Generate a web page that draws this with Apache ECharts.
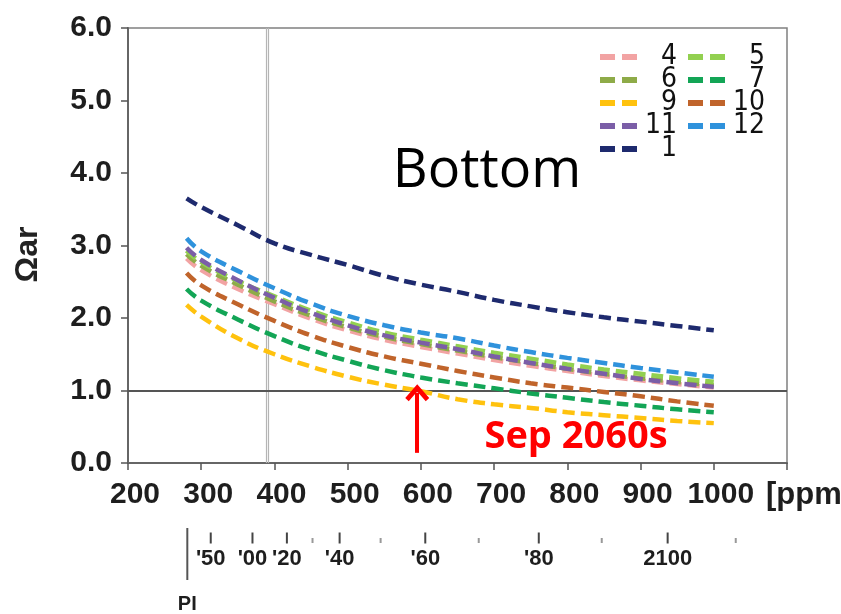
<!DOCTYPE html>
<html><head><meta charset="utf-8">
<script src="https://cdn.jsdelivr.net/npm/echarts@6/dist/echarts.min.js"></script>
<style>html,body{margin:0;padding:0;background:#fff}#c{width:841px;height:614px}</style>
</head><body><div id="c"></div>
<script>
// CO2 (ppm) sample points
const co2 = [280,300,350,400,450,500,550,600,650,700,750,800,850,900,950,1000];
// Omega aragonite per month (bottom)
const m1  = [3.65,3.53,3.28,3.03,2.87,2.73,2.58,2.46,2.36,2.25,2.16,2.08,2.01,1.95,1.89,1.83];
const m4  = [2.82,2.66,2.40,2.19,1.99,1.83,1.70,1.60,1.51,1.42,1.34,1.27,1.20,1.14,1.09,1.04];
const m5  = [2.93,2.77,2.51,2.30,2.10,1.94,1.80,1.70,1.61,1.52,1.44,1.36,1.29,1.23,1.17,1.12];
const m6  = [2.88,2.72,2.46,2.23,2.03,1.87,1.74,1.64,1.55,1.46,1.38,1.30,1.23,1.17,1.12,1.07];
const m7  = [2.40,2.24,1.98,1.75,1.56,1.41,1.28,1.18,1.10,1.03,0.96,0.90,0.84,0.79,0.74,0.70];
const m9  = [2.18,2.02,1.72,1.50,1.33,1.19,1.08,0.99,0.88,0.81,0.76,0.70,0.66,0.62,0.58,0.55];
const m10 = [2.62,2.45,2.19,1.96,1.76,1.60,1.47,1.37,1.27,1.18,1.10,1.04,0.98,0.92,0.85,0.79];
const m11 = [2.97,2.80,2.52,2.28,2.07,1.90,1.76,1.66,1.57,1.47,1.38,1.30,1.23,1.16,1.10,1.05];
const m12 = [3.10,2.92,2.65,2.41,2.20,2.03,1.90,1.80,1.72,1.62,1.53,1.45,1.38,1.31,1.25,1.19];

const legendCol1 = ['4','6','9','11','1'];
const legendCol2 = ['5','7','10','12'];

const xTicks = [200,300,400,500,600,700,800,900,1000,1100];
const xTickLabels = ['200','300','400','500','600','700','800','900','1000','[ppm]'];

// time line under the ppm axis
const timelinePpm = [281,313,370,417,452,489,545,606,679,761,847,937,1030];
const timelineLabels = ['PI',"'50","'00","'20",'',"'40",'',"'60",'',"'80",'','2100',''];

const presentPpm = 390;
const thresholdValue = 1.0;
const arrowPpm = 595;
const arrowFrom = 0.14, arrowTo = 0.97;

const colors = {
  '1':'#1e2a6e','4':'#f2a3a3','5':'#92d050','6':'#8eab48','7':'#13a556',
  '9':'#ffc20e','10':'#c0642b','11':'#7b5ea7','12':'#2f92dc'
};
const dataMap = {'1':m1,'4':m4,'5':m5,'6':m6,'7':m7,'9':m9,'10':m10,'11':m11,'12':m12};
const drawOrder = ['4','6','5','11','12','10','7','9','1'];

const pair = arr => co2.map((x,i)=>[x, arr[i]]);
const NARROW = "'Liberation Sans Narrow','DejaVu Sans Condensed','Liberation Sans',sans-serif";
const BOLD = "'Liberation Sans',Arial,sans-serif";

const series = drawOrder.map(k => ({
  name: k, type: 'line', data: pair(dataMap[k]), smooth: true, symbol: 'none',
  color: colors[k], itemStyle: {color: colors[k]},
  lineStyle: {color: colors[k], width: 4.5, type: [12, 6]},
  xAxisIndex: 0, yAxisIndex: 0, silent: true, z: 3
}));

series[0].markLine = {
  silent: true, symbol: ['none','none'], label: {show: false}, animation: false, z: 2,
  data: [
    {xAxis: presentPpm - 1.6, lineStyle: {color: '#b5b5b5', width: 1.2, type: 'solid'}},
    {xAxis: presentPpm + 1.6, lineStyle: {color: '#b5b5b5', width: 1.2, type: 'solid'}},
    {yAxis: thresholdValue, lineStyle: {color: '#555', width: 2, type: 'solid'}}
  ]
};
series.push({
  name: 'arrow', type: 'line', data: [], xAxisIndex: 0, yAxisIndex: 0, z: 10,
  markLine: {
    silent: true, label: {show: false}, animation: false, z: 10,
    data: [[
      {coord: [arrowPpm, arrowFrom], symbol: 'none'},
      {coord: [arrowPpm, arrowTo], symbol: 'path://M12,0 L24,13 L20.5,16 L12,7 L3.5,16 L0,13 Z', symbolSize: [24, 17]}
    ]],
    lineStyle: {color: '#ff0000', width: 4, type: 'solid'}
  }
});

// timeline marks
const tlData = timelinePpm.map((p, i) => {
  const lab = timelineLabels[i];
  if (lab === 'PI') {
    return {value: [p, 34], symbolSize: [2, 52], itemStyle: {color: '#555', opacity: 1},
      label: {show: true, formatter: lab, position: 'bottom', distance: 14,
        fontSize: 20, fontWeight: 'bold', color: '#1e1e1e', fontFamily: BOLD}};
  } else if (lab) {
    return {value: [p, 18], symbolSize: [2, 11], itemStyle: {color: '#444', opacity: 1},
      label: {show: true, formatter: lab, position: 'bottom', distance: 4,
        fontSize: 22, fontWeight: 'bold', color: '#1e1e1e', fontFamily: BOLD}};
  }
  return {value: [p, 20.5], symbolSize: [2, 5], itemStyle: {color: '#999', opacity: 1}, label: {show: false}};
});
series.push({
  name: 'timeline', type: 'scatter', symbol: 'rect', xAxisIndex: 1, yAxisIndex: 1,
  itemStyle: {opacity: 1}, data: tlData, silent: true, clip: false
});

const legendBase = {
  orient: 'vertical', top: 43, padding: 0, itemGap: -5, itemWidth: 37, itemHeight: 6,
  icon: 'path://M0,0h15v6h-15z M22,0h15v6h-15z', selectedMode: false,
  formatter: n => '{n|' + n + '}',
  textStyle: {rich: {n: {width: 35, align: 'right', fontSize: 28, lineHeight: 22,
    fontFamily: NARROW, color: '#111'}}}
};

const option = {
  animation: false,
  backgroundColor: '#fff',
  grid: [
    {left: 128, right: 54, top: 28, bottom: 151, outerBoundsMode: 'none', containLabel: false,
      show: true, borderColor: '#808080', borderWidth: 1.5, backgroundColor: 'transparent'},
    {left: 128, right: 54, top: 520, height: 94, outerBoundsMode: 'none', containLabel: false}
  ],
  xAxis: [
    {type: 'value', min: 200, max: 1100, interval: 100, gridIndex: 0,
      axisLine: {show: true, onZero: false, lineStyle: {color: '#666', width: 2}},
      axisTick: {show: true, length: 7, lineStyle: {color: '#555', width: 1.5}},
      splitLine: {show: false},
      axisLabel: {margin: 17, fontSize: 30, fontWeight: 'bold', color: '#1e1e1e', fontFamily: BOLD,
        padding: [0, 0, 0, 14], hideOverlap: false,
        formatter: v => { const i = xTicks.indexOf(v); return i === xTicks.length - 1 ? '{p|' + xTickLabels[i] + '}' : xTickLabels[i]; },
        rich: {p: {fontSize: 31, fontWeight: 'bold', color: '#1e1e1e', fontFamily: BOLD, padding: [0, 0, 0, 30]}}}},
    {type: 'value', min: 200, max: 1100, gridIndex: 1, show: false}
  ],
  yAxis: [
    {type: 'value', min: 0, max: 6, interval: 1, gridIndex: 0,
      name: '{t|Ωar}', nameLocation: 'middle', nameRotate: 90, nameGap: 84,
      nameTextStyle: {fontSize: 32, fontWeight: 'bold', color: '#222', fontFamily: BOLD,
        rich: {t: {fontSize: 32, fontWeight: 'bold', color: '#222', fontFamily: BOLD, padding: [0, 18, 0, 0]}}},
      axisLine: {show: true, onZero: false, lineStyle: {color: '#666', width: 2}},
      axisTick: {show: true, length: 7, lineStyle: {color: '#555', width: 1.5}},
      splitLine: {show: false},
      axisLabel: {margin: 16, fontSize: 30, fontWeight: 'bold', color: '#1e1e1e', fontFamily: BOLD,
        formatter: v => v.toFixed(1)}},
    {type: 'value', min: 0, max: 94, inverse: true, gridIndex: 1, show: false}
  ],
  legend: [
    Object.assign({}, legendBase, {left: 600, data: legendCol1}),
    Object.assign({}, legendBase, {left: 688, data: legendCol2})
  ],
  graphic: [
    {type: 'text', silent: true,
      style: {text: 'Bottom', x: 487, y: 172, textAlign: 'center', textVerticalAlign: 'middle',
        fontSize: 54, fontFamily: "'Open Sans','Liberation Sans',sans-serif", fill: '#000'}},
    {type: 'text', silent: true,
      style: {text: 'Sep 2060s', x: 576, y: 437, textAlign: 'center', textVerticalAlign: 'middle',
        fontSize: 38, fontWeight: 'bold', fontFamily: "'Open Sans','Liberation Sans',sans-serif", fill: '#ff0000'}}
  ],
  series: series
};

const chart = echarts.init(document.getElementById('c'), null, {renderer: 'canvas'});
chart.setOption(option);
</script>
</body></html>
